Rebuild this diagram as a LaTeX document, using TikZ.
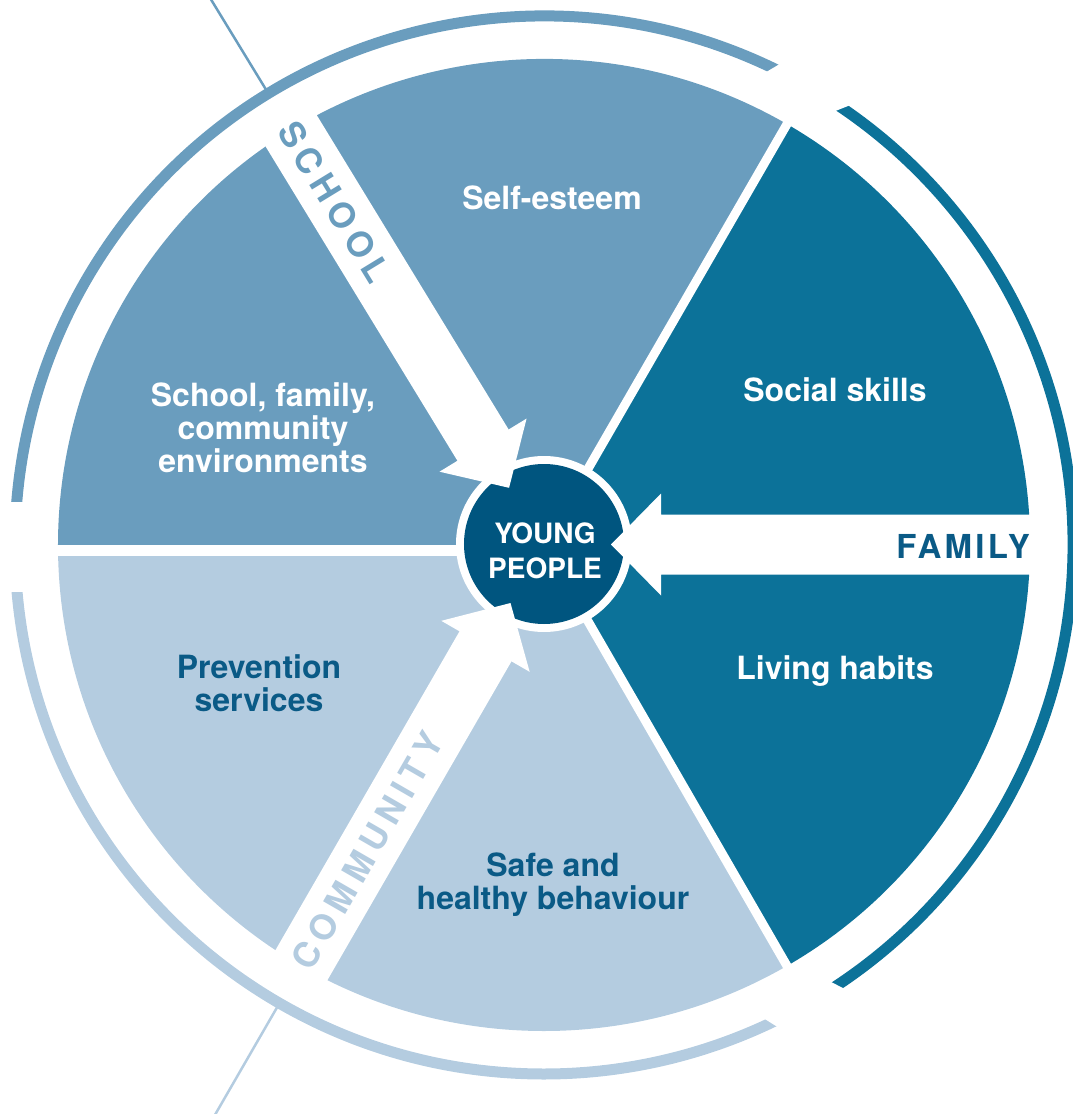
\documentclass[tikz,border=0pt]{standalone}
\usepackage{fontspec}
\setmainfont{TeX Gyre Heros}
\definecolor{schoolc}{HTML}{6A9DBE}
\definecolor{commc}{HTML}{B4CCE0}
\definecolor{famc}{HTML}{0C7299}
\definecolor{corec}{HTML}{00557F}
\definecolor{darktext}{HTML}{0A5A86}
\begin{document}
\begin{tikzpicture}[x=1pt,y=1pt,
  lbl/.style={font=\fontsize{32}{33}\selectfont\bfseries, align=center, inner sep=0pt},
  whitelbl/.style={lbl, text=white},
  darklbl/.style={lbl, text=darktext},
  banner/.style={font=\fontsize{35}{36}\selectfont\bfseries\addfontfeature{LetterSpace=18}, inner sep=0pt},
  outerarc/.style={line width=11},
  gapline/.style={white, line width=9},
  thinline/.style={line width=2.5},
  arrowshape/.style={fill=white}]
\useasboundingbox (-544,-569) rectangle (529,545);
\clip (-544,-569) rectangle (529,545);

% outer arcs
\draw[outerarc, schoolc] (60:529) arc[start angle=60, end angle=180, radius=529];
\draw[outerarc, commc] (180:529) arc[start angle=180, end angle=300, radius=529];
\draw[outerarc, famc] (-60:529) arc[start angle=-60, end angle=60, radius=529];
% cuts between the outer arcs
\fill[white] (242.8,485.2) -- (313.8,442.9) -- (284.2,431.1) -- (215.2,468.8) -- cycle;
\fill[white] (241.6,-487) -- (308.3,-447.7) -- (279.7,-433.3) -- (214.4,-470) -- cycle;
\fill[white] (-546,-47) rectangle (-505,43);

% thin lines outside the ring
\coordinate (s1) at (121.4:530);
\coordinate (s2) at (121.4:720);
\coordinate (c1) at (240:530);
\coordinate (c2) at (240:720);
\draw[thinline, schoolc] (s1) -- (s2);
\draw[thinline, commc] (c1) -- (c2);

% sectors
\fill[schoolc] (0,0) -- (60:486) arc[start angle=60, end angle=180, radius=486] -- cycle;
\fill[commc] (0,0) -- (180:486) arc[start angle=180, end angle=300, radius=486] -- cycle;
\fill[famc] (0,0) -- (-60:486) arc[start angle=-60, end angle=60, radius=486] -- cycle;
% gaps between sectors
\draw[gapline] (0,0) -- (60:500);
\draw[gapline] (0,0) -- (-60:500);
\fill[white] (-500,0.5) rectangle (0,-11);

% core circle
\fill[white] (0,1) circle (88);
\fill[corec] (0,1) circle (80);

% white arrows
\begin{scope}[rotate=121.4]
\fill[arrowshape] (67,0) -- (117,51) -- (117,30) -- (500,30) -- (500,-30) -- (117,-30) -- (117,-51) -- cycle;
\end{scope}
\begin{scope}[rotate=240]
\fill[arrowshape] (67,0) -- (117,51) -- (117,30) -- (500,30) -- (500,-30) -- (117,-30) -- (117,-51) -- cycle;
\end{scope}
\begin{scope}[yshift=0.5]
\fill[arrowshape] (67,0) -- (117,51) -- (117,30) -- (500,30) -- (500,-30) -- (117,-30) -- (117,-51) -- cycle;
\end{scope}

% centre text
\node[font=\fontsize{28}{35}\selectfont\bfseries, text=white, align=center, inner sep=0pt] (core) at (1,-5.5) {YOUNG\\PEOPLE};

% banner labels
\node[banner, text=schoolc, rotate=-58.6] (school) at (121.4:402) {SCHOOL};
\node[banner, text=commc, rotate=60] (community) at (240:353) {COMMUNITY};
\node[font=\fontsize{33}{34}\selectfont\bfseries\addfontfeature{LetterSpace=10}, inner sep=0pt, text=darktext, anchor=east] (family) at (486,-1.5) {FAMILY};

% sector labels
\node[whitelbl] (selfesteem) at (8,347) {Self-esteem};
\node[whitelbl] (social) at (291,155) {Social skills};
\node[whitelbl, anchor=base] (living) at (291,-134.5) {Living habits};
\node[whitelbl] (environ) at (-281,117) {School, family,\\community\\environments};
\node[darklbl] (prevention) at (-285,-138) {Prevention\\services};
\node[darklbl] (safe) at (9,-340) {Safe and\\healthy behaviour};
\end{tikzpicture}
\end{document}
